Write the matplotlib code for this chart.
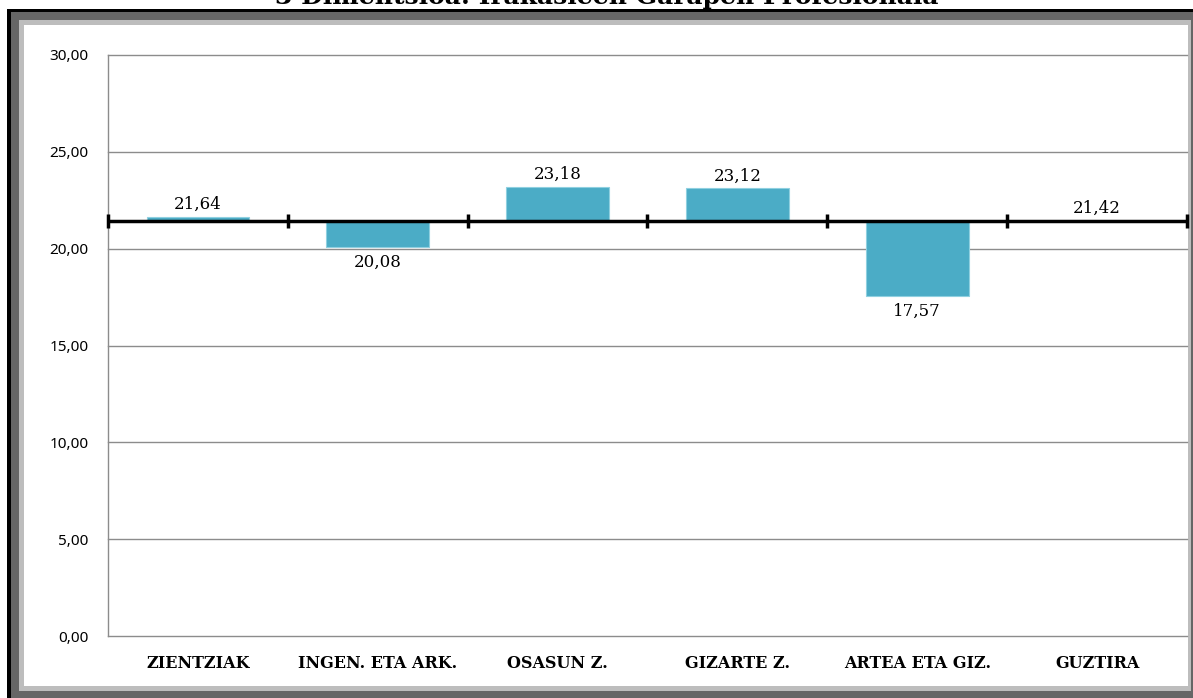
import matplotlib
matplotlib.use("Agg")
import matplotlib.pyplot as plt
from matplotlib.patches import Rectangle
import numpy as np

categories = ["ZIENTZIAK", "INGEN. ETA ARK.", "OSASUN Z.", "GIZARTE Z.", "ARTEA ETA GIZ.", "GUZTIRA"]
values = [21.64, 20.08, 23.18, 23.12, 17.57, 21.42]
baseline = 21.42
yticks = [0, 5, 10, 15, 20, 25, 30]
title = "3 Dimentsioa: Irakasleen Garapen Profesionala"

W, H = 1193, 698
fig = plt.figure(figsize=(W / 100, H / 100), dpi=100)
fig.patch.set_facecolor("white")

def frac_rect(x0, y0, x1, y1, color):
    # pixel coords (top-left origin) -> figure fraction
    fig.patches.append(Rectangle((x0 / W, 1 - y1 / H), (x1 - x0) / W, (y1 - y0) / H,
                                 transform=fig.transFigure, facecolor=color,
                                 edgecolor="none", zorder=-10))

# frame
frac_rect(7, 9, W, H, "black")
frac_rect(11, 12, W, H, "#666666")
frac_rect(19, 20, 1191, 691, "#bdbdbd")
frac_rect(24, 25, 1188, 686, "white")

ax = fig.add_axes([108 / W, 1 - 636 / H, (1187 - 108) / W, (636 - 55) / H])
ax.set_facecolor("none")
n = len(categories)
x = np.arange(n)
ax.set_xlim(-0.5, n - 0.5)
ax.set_ylim(0, 30)

for v in yticks:
    ax.axhline(v, color="#8c8c8c", lw=1, zorder=0, clip_on=False)

heights = [v - baseline for v in values]
ax.bar(x, heights, bottom=baseline, width=0.57, color="#4BACC6",
       edgecolor="#8fd0e0", linewidth=0.8, zorder=2)

# horizontal axis at baseline
ax.axhline(baseline, color="black", lw=2.5, zorder=3)
for b in np.arange(n + 1) - 0.5:
    ax.plot([b, b], [baseline - 0.35, baseline + 0.35], color="black", lw=2.5,
            zorder=3, clip_on=False, solid_capstyle="butt")

for xi, v in zip(x, values):
    lab = f"{v:.2f}".replace(".", ",")
    if v >= baseline:
        ax.text(xi, max(v, baseline) + 0.2, lab, ha="center", va="bottom",
                fontsize=12, family="DejaVu Serif", zorder=4)
    else:
        ax.text(xi, v - 0.35, lab, ha="center", va="top",
                fontsize=12, family="DejaVu Serif", zorder=4)

ax.set_yticks(yticks)
ax.set_yticklabels([f"{t:.2f}".replace(".", ",") for t in yticks], fontsize=11,
                   family="Noto Sans")
ax.tick_params(axis="y", length=0, pad=14)
ax.set_xticks(x)
ax.set_xticklabels(categories, fontsize=11.5, fontweight="bold", family="DejaVu Serif")
ax.tick_params(axis="x", length=0, pad=14)

for s in ["top", "right", "bottom"]:
    ax.spines[s].set_visible(False)
ax.spines["left"].set_color("#8c8c8c")
ax.spines["left"].set_linewidth(1)

fig.text(607 / W, 1 - 4 / H, title, ha="center", va="baseline",
         fontsize=18, fontweight="bold", family="DejaVu Serif")

fig.savefig("out.png", dpi=100)
